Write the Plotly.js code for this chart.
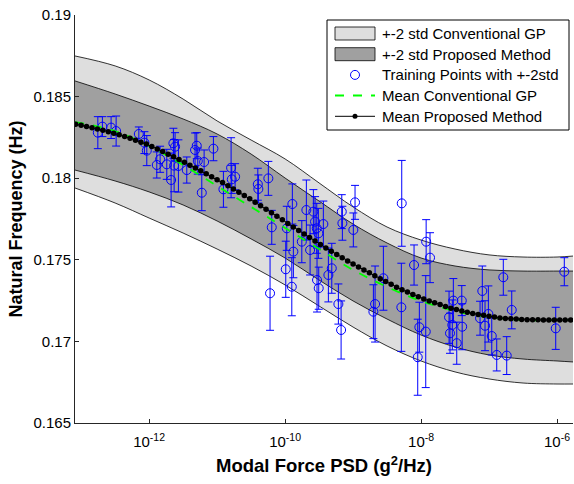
<!DOCTYPE html>
<html><head><meta charset="utf-8">
<script src="https://cdn.plot.ly/plotly-3.0.1.min.js"></script>
<style>html,body{margin:0;padding:0;background:#fff}#chart{width:574px;height:484px}</style>
</head><body><div id="chart"></div>
<script>
// Training points (log10 of modal force PSD), natural frequency, 2-std half width
const trainLogX = [-12.754,-12.687,-12.559,-12.485,-12.151,-12.069,-12.034,-11.887,-11.838,-11.740,
  -11.676,-11.643,-11.632,-11.618,-11.569,-11.446,-11.324,-11.299,-11.284,-11.225,
  -11.191,-11.054,-10.907,-10.794,-10.784,-10.735,-10.401,-10.393,-10.246,-10.196,
  -10.221,-9.975,-9.990,-9.893,-9.878,-9.901,-9.754,-9.687,-9.632,-9.584,
  -9.559,-9.534,-9.510,-9.530,-9.505,-9.437,-9.363,-9.313,-9.216,-9.176,
  -9.166,-9.157,-8.996,-8.971,-8.701,-8.676,-8.554,-8.284,-8.290,-8.103,
  -8.049,-8.025,-7.931,-7.925,-7.868,-7.588,-7.540,-7.525,-7.574,-7.475,
  -7.401,-7.395,-7.132,-7.099,-7.059,-7.010,-6.960,-6.887,-6.790,-6.740,
  -6.666,-6.019,-5.893];
const trainY = [0.18279,0.18316,0.18310,0.18289,0.18271,0.18218,0.18169,0.18081,0.18116,0.18085,
  0.17989,0.18214,0.18077,0.18193,0.18075,0.18050,0.18173,0.18199,0.18105,0.17911,
  0.18099,0.18181,0.17932,0.18064,0.17993,0.18009,0.17963,0.17934,0.17999,0.17699,
  0.17295,0.17693,0.17442,0.17842,0.17550,0.17335,0.17611,0.17805,0.17560,0.17795,
  0.17734,0.17693,0.17662,0.17376,0.17326,0.17719,0.17407,0.17448,0.17229,0.17070,
  0.17795,0.17724,0.17683,0.17852,0.17182,0.17229,0.17387,0.17846,0.17209,0.17468,
  0.16903,0.17087,0.17060,0.17611,0.17513,0.17148,0.17101,0.17250,0.17050,0.16989,
  0.17250,0.17090,0.17142,0.17309,0.17096,0.17168,0.17033,0.16917,0.17393,0.16913,
  0.17193,0.17080,0.17427];
const trainErr = [0.00098,0.00061,0.00067,0.00092,0.00043,0.00067,0.00092,0.00080,0.00080,0.00092,
  0.00165,0.00092,0.00160,0.00086,0.00160,0.00080,0.00104,0.00080,0.00080,0.00110,
  0.00074,0.00074,0.00110,0.00184,0.00086,0.00080,0.00098,0.00086,0.00104,0.00104,
  0.00227,0.00135,0.00172,0.00123,0.00160,0.00178,0.00129,0.00184,0.00153,0.00135,
  0.00153,0.00153,0.00153,0.00196,0.00129,0.00141,0.00165,0.00153,0.00123,0.00178,
  0.00104,0.00104,0.00104,0.00104,0.00165,0.00233,0.00196,0.00263,0.00270,0.00123,
  0.00233,0.00153,0.00343,0.00135,0.00153,0.00160,0.00153,0.00135,0.00123,0.00129,
  0.00092,0.00141,0.00104,0.00153,0.00153,0.00172,0.00116,0.00098,0.00110,0.00116,
  0.00116,0.00129,0.00086];

// Confidence bands and conventional GP mean
const bandLogX = [-13.09,-12.5,-12,-11.5,-11,-10.5,-10,-9.5,-9,-8.5,-8,-7.5,-7,-6.5,-6,-5.765];
const convUpper = [0.18749,0.18688,0.18602,0.18485,0.18351,0.18234,0.18118,0.17971,0.17824,0.17701,0.17621,0.17566,0.17530,0.17517,0.17517,0.17523];
const convLower = [0.17940,0.17848,0.17756,0.17664,0.17566,0.17462,0.17346,0.17217,0.17088,0.16972,0.16880,0.16813,0.16770,0.16745,0.16739,0.16739];
const propUpper = [0.18596,0.18516,0.18442,0.18363,0.18271,0.18148,0.18001,0.17860,0.17719,0.17603,0.17511,0.17462,0.17438,0.17431,0.17431,0.17431];
const propLower = [0.18050,0.17983,0.17916,0.17836,0.17738,0.17628,0.17511,0.17376,0.17248,0.17137,0.17039,0.16966,0.16917,0.16892,0.16880,0.16874];
const convMean = [0.18344,0.18289,0.18197,0.18081,0.17952,0.17824,0.17695,0.17566,0.17438,0.17334,0.17248,0.17186,0.17150,0.17131,0.17131,0.17131];

// Proposed method mean (dotted line)
const meanLogX = [-13.08,-13.00,-12.92,-12.84,-12.76,-12.68,-12.60,-12.52,-12.44,-12.36,
  -12.28,-12.20,-12.12,-12.04,-11.96,-11.88,-11.80,-11.72,-11.64,-11.56,
  -11.48,-11.40,-11.32,-11.24,-11.16,-11.08,-11.00,-10.92,-10.84,-10.76,
  -10.68,-10.60,-10.52,-10.44,-10.36,-10.28,-10.20,-10.12,-10.04,-9.96,
  -9.88,-9.80,-9.72,-9.64,-9.56,-9.48,-9.40,-9.32,-9.24,-9.16,
  -9.08,-9.00,-8.92,-8.84,-8.76,-8.68,-8.60,-8.52,-8.44,-8.36,
  -8.28,-8.20,-8.12,-8.04,-7.96,-7.88,-7.80,-7.72,-7.64,-7.56,
  -7.48,-7.40,-7.32,-7.24,-7.16,-7.08,-7.00,-6.92,-6.84,-6.76,
  -6.68,-6.60,-6.52,-6.44,-6.36,-6.28,-6.20,-6.12,-6.04,-5.96,
  -5.88,-5.80];
const propMean = [0.18331,0.18324,0.18317,0.18309,0.18302,0.18294,0.18284,0.18275,0.18266,0.18256,
  0.18245,0.18233,0.18221,0.18209,0.18195,0.18179,0.18163,0.18147,0.18131,0.18114,
  0.18097,0.18080,0.18062,0.18045,0.18027,0.18009,0.17991,0.17973,0.17954,0.17934,
  0.17914,0.17894,0.17874,0.17853,0.17831,0.17810,0.17789,0.17767,0.17745,0.17723,
  0.17701,0.17679,0.17658,0.17636,0.17615,0.17594,0.17573,0.17553,0.17533,0.17513,
  0.17493,0.17474,0.17456,0.17438,0.17420,0.17402,0.17384,0.17367,0.17350,0.17332,
  0.17316,0.17302,0.17288,0.17274,0.17260,0.17248,0.17237,0.17226,0.17214,0.17203,
  0.17195,0.17187,0.17179,0.17171,0.17165,0.17160,0.17154,0.17149,0.17144,0.17141,
  0.17139,0.17137,0.17134,0.17133,0.17132,0.17132,0.17131,0.17131,0.17131,0.17131,
  0.17131,0.17131];

const xTickVals = [1e-12, 1e-10, 1e-8, 1e-6];
const xTickText = ['10<sup>-12</sup>', '10<sup>-10</sup>', '10<sup>-8</sup>', '10<sup>-6</sup>'];
const yTickVals = [0.165, 0.17, 0.175, 0.18, 0.185, 0.19];
const yTickText = ['0.165', '0.17', '0.175', '0.18', '0.185', '0.19'];
const seriesNames = ['+-2 std Conventional GP', '+-2 std Proposed Method', 'Training Points with +-2std', 'Mean Conventional GP', 'Mean Proposed Method'];

const pow10 = a => a.map(e => Math.pow(10, e));
const bandX = pow10(bandLogX);
const FONT = 'Liberation Sans, Arial, sans-serif';
const LIGHT = '#dedede', DARK = '#a0a0a0', BLUE = '#0000ff', GREEN = '#00ff00';

const traces = [
  {x: bandX, y: convLower, mode: 'lines', line: {color: '#000', width: 0.8, shape: 'spline'}, showlegend: false, hoverinfo: 'skip'},
  {x: bandX, y: convUpper, mode: 'lines', fill: 'tonexty', fillcolor: LIGHT, line: {color: '#000', width: 0.8, shape: 'spline'}, name: seriesNames[0]},
  {x: bandX, y: propLower, mode: 'lines', line: {color: '#000', width: 0.8, shape: 'spline'}, showlegend: false, hoverinfo: 'skip'},
  {x: bandX, y: propUpper, mode: 'lines', fill: 'tonexty', fillcolor: DARK, line: {color: '#000', width: 0.8, shape: 'spline'}, name: seriesNames[1]},
  {x: pow10(trainLogX), y: trainY, mode: 'markers', name: seriesNames[2],
   marker: {symbol: 'circle-open', size: 9, color: BLUE, line: {width: 1, color: BLUE}},
   error_y: {type: 'data', array: trainErr, symmetric: true, color: BLUE, thickness: 1, width: 4}},
  {x: bandX, y: convMean, mode: 'lines', name: seriesNames[3], line: {color: GREEN, width: 1.8, dash: 'dash', shape: 'spline'}},
  {x: pow10(meanLogX), y: propMean, mode: 'lines+markers', name: seriesNames[4], line: {color: '#000', width: 1}, marker: {size: 5.5, color: '#000'}}
];

// Legend drawn as shapes + text (MATLAB-style full-height swatches); positions in pixels -> paper
const M = {l: 75, r: 1, t: 15, b: 61}, W = 574, H = 484;
const pw = W - M.l - M.r, ph = H - M.t - M.b;
const px = v => (v - M.l) / pw;
const py = v => (H - M.b - v) / ph;
const rowY = [33.5, 54.2, 74.9, 95.6, 116.3];
const symL = 335, symR = 375, symC = 355, textX = 380;
const P = {xref: 'paper', yref: 'paper'};
const shapes = [
  Object.assign({type: 'rect', x0: px(327), x1: px(569), y0: py(20), y1: py(130), fillcolor: '#fff', line: {color: '#000', width: 1}}, P),
  Object.assign({type: 'rect', x0: px(symL), x1: px(symR), y0: py(rowY[0] - 6.5), y1: py(rowY[0] + 6.5), fillcolor: LIGHT, line: {color: '#000', width: 0.8}}, P),
  Object.assign({type: 'rect', x0: px(symL), x1: px(symR), y0: py(rowY[1] - 6.5), y1: py(rowY[1] + 6.5), fillcolor: DARK, line: {color: '#000', width: 0.8}}, P),
  Object.assign({type: 'circle', x0: px(symC - 4.5), x1: px(symC + 4.5), y0: py(rowY[2] - 4.5), y1: py(rowY[2] + 4.5), line: {color: BLUE, width: 1}}, P),
  Object.assign({type: 'line', x0: px(symL), x1: px(symR), y0: py(rowY[3]), y1: py(rowY[3]), line: {color: GREEN, width: 2, dash: 'dash'}}, P),
  Object.assign({type: 'line', x0: px(symL), x1: px(symR), y0: py(rowY[4]), y1: py(rowY[4]), line: {color: '#000', width: 1}}, P),
  Object.assign({type: 'circle', x0: px(symC - 2.5), x1: px(symC + 2.5), y0: py(rowY[4] - 2.5), y1: py(rowY[4] + 2.5), fillcolor: '#000', line: {color: '#000', width: 0}}, P)
];
const annotations = seriesNames.map((t, i) => ({
  xref: 'paper', yref: 'paper', x: px(textX), y: py(rowY[i]), xanchor: 'left', yanchor: 'middle',
  text: t, showarrow: false, font: {family: FONT, size: 15, color: '#000'}
}));

const layout = {
  width: W, height: H,
  margin: M,
  paper_bgcolor: '#fff', plot_bgcolor: '#fff',
  font: {family: FONT, size: 15, color: '#000'},
  showlegend: false,
  shapes: shapes, annotations: annotations,
  xaxis: {type: 'log', range: [-13.09, -5.765], tickvals: xTickVals, ticktext: xTickText,
          ticks: 'inside', ticklen: 4, tickcolor: '#262626', showline: true, linecolor: '#262626', linewidth: 1,
          showgrid: false, zeroline: false, mirror: false, tickfont: {family: FONT, size: 15}, ticklabelstandoff: 5,
          title: {text: '<b>Modal Force PSD (g<sup>2</sup>/Hz)</b>', font: {family: FONT, size: 18.5}, standoff: 10}},
  yaxis: {range: [0.165, 0.19], tickvals: yTickVals, ticktext: yTickText,
          ticks: 'inside', ticklen: 4, tickcolor: '#262626', showline: true, linecolor: '#262626', linewidth: 1,
          showgrid: false, zeroline: false, mirror: false, tickfont: {family: FONT, size: 15},
          title: {text: '<b>Natural Frequency (Hz)</b>', font: {family: FONT, size: 18}, standoff: 6}}
};

Plotly.newPlot('chart', traces, layout, {displayModeBar: false, staticPlot: true});
</script>
</body></html>
